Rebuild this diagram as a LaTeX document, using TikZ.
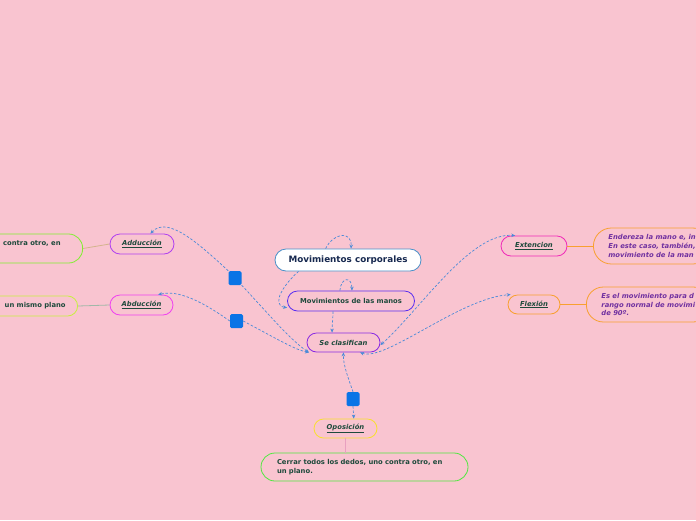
\documentclass[tikz,border=0pt]{standalone}
\usepackage{fontspec}
\setmainfont{DejaVu Sans}
\usetikzlibrary{arrows.meta}

\definecolor{canvas}{RGB}{249,196,208}
\definecolor{linkblue}{RGB}{74,138,216}
\definecolor{squareblue}{RGB}{10,116,230}
\definecolor{leafgreen}{RGB}{30,74,60}
\definecolor{navytext}{RGB}{22,40,79}
\definecolor{purpletext}{RGB}{112,48,160}
\definecolor{corpline}{RGB}{74,144,200}
\definecolor{manosline}{RGB}{91,47,240}
\definecolor{clasline}{RGB}{138,43,226}
\definecolor{adduline}{RGB}{176,64,240}
\definecolor{abduline}{RGB}{240,64,240}
\definecolor{exteline}{RGB}{240,42,184}
\definecolor{orangeline}{RGB}{248,160,48}
\definecolor{yellowline}{RGB}{248,224,48}
\definecolor{greenline}{RGB}{128,240,48}
\definecolor{limeline}{RGB}{200,240,64}
\definecolor{brightgreen}{RGB}{80,232,64}

\begin{document}
\begin{tikzpicture}[x=1pt,y=-1pt,
    topic/.style={draw,line width=0.8pt,rounded corners=9.5pt,inner sep=0pt,minimum height=19pt,text=leafgreen},
    note/.style={draw,line width=0.8pt,rounded corners=14pt,inner xsep=15pt,inner ysep=0pt,align=left,text=leafgreen},
    square/.style={fill=squareblue,rounded corners=1.5pt,minimum width=13pt,minimum height=14pt,inner sep=0pt},
    rel/.style={draw=linkblue,line width=0.7pt,dash pattern=on 2.5pt off 1.8pt,-{Stealth[length=4pt,width=3.5pt]}},
    branch/.style={line width=0.8pt}]
    \providecommand{\corpsize}{\fontsize{8.8pt}{10pt}\selectfont}
    \providecommand{\leafsize}{\fontsize{6.8pt}{8.7pt}\selectfont}
    \useasboundingbox (0,0) rectangle (696,520);
    \fill[canvas] (0,0) rectangle (696,520);
    \clip (0,0) rectangle (696,520);

    \node[topic,draw=corpline,fill=white,minimum width=146pt,minimum height=22pt,rounded corners=11pt,font=\corpsize\bfseries,text=navytext] (corp) at (348,260) {Movimientos corporales};
    \node[topic,draw=manosline,minimum width=127pt,minimum height=20pt,rounded corners=10pt,font=\leafsize\bfseries] (manos) at (351,301) {Movimientos de las manos};
    \node[topic,draw=clasline,minimum width=73pt,font=\leafsize\bfseries\itshape] (clas) at (343.5,342.5) {Se clasifican};

    \node[topic,draw=adduline,minimum width=64pt,minimum height=20pt,rounded corners=10pt,font=\leafsize\bfseries\itshape] (addu) at (142,244) {\underline{Adducción}};
    \node[topic,draw=abduline,minimum width=63pt,minimum height=20pt,rounded corners=10pt,font=\leafsize\bfseries\itshape] (abdu) at (141.5,305) {\underline{Abducción}};
    \node[topic,draw=exteline,minimum width=66pt,minimum height=20pt,rounded corners=10pt,font=\leafsize\bfseries\itshape] (exte) at (534,246) {\underline{Extencion}};
    \node[topic,draw=orangeline,minimum width=52pt,font=\leafsize\bfseries\itshape] (flex) at (534,304.5) {\underline{Flexión}};
    \node[topic,draw=yellowline,minimum width=63pt,font=\leafsize\bfseries\itshape] (opos) at (345.5,428.5) {\underline{Oposición}};

    \node[note,draw=greenline,anchor=east,minimum height=29pt,inner xsep=0pt,font=\leafsize\bfseries] (adduText) at (83,248.5) {\hspace*{40pt}contra otro, en\hspace*{22pt}\\ \strut};
    \node[note,draw=limeline,anchor=east,minimum height=20pt,rounded corners=10pt,inner xsep=0pt,font=\leafsize\bfseries] (abduText) at (78,306) {\hspace*{40pt}un mismo plano\hspace*{12pt}};
    \node[note,draw=orangeline,anchor=west,minimum height=36pt,rounded corners=18pt,text=purpletext,font=\leafsize\bfseries\itshape] (exteText) at (593,246) {Endereza la mano e, in\\En este caso, también,\\movimiento de la man};
    \node[note,draw=orangeline,anchor=west,minimum height=35pt,rounded corners=17pt,text=purpletext,font=\leafsize\bfseries\itshape] (flexText) at (586,304.5) {Es el movimiento para d\\rango normal de movimi\\de 90º.};
    \node[note,draw=brightgreen,minimum width=207pt,minimum height=28pt,text width=175pt,font=\leafsize\bfseries] (oposText) at (364.5,467) {Cerrar todos los dedos, uno contra otro, en\\un plano.};

    \node[square] (sqA) at (235,278) {};
    \node[square] (sqB) at (236.5,321) {};
    \node[square] (sqC) at (353,399) {};

    % branches
    \draw[branch,draw={rgb,255:red,212;green,180;blue,140}] (adduText.east) -- (addu.west);
    \draw[branch,draw={rgb,255:red,160;green,184;blue,168}] (abduText.east) -- (abdu.west);
    \draw[branch,draw=orangeline] (exte.east) -- (exteText.west);
    \draw[branch,draw=orangeline] (flex.east) -- (flexText.west);
    \draw[branch,draw={rgb,255:red,232;green,160;blue,192}] (opos.south) -- (opos.south |- oposText.north);

    % relationships
    \draw[rel] (corp.153) .. controls (333,233) and (352,230) .. (corp.75);
    \draw[rel] (corp.193) .. controls (285,283) and (270,305) .. (manos.186);
    \draw[rel] (manos.137) .. controls (341,277) and (352,276) .. (manos.85);
    \draw[rel] (manos.210) .. controls (333,320) and (332,326) .. (clas.139);
    \draw[rel] (sqA.north west) .. controls (200,245) and (168,215) .. (addu.51);
    \draw[rel] (sqA.south east) .. controls (265,310) and (290,340) .. (clas.196);
    \draw[rel] (sqB.west) .. controls (200,300) and (178,290) .. (abdu.32);
    \draw[rel] (sqB.east) .. controls (270,335) and (295,350) .. (clas.196);
    \draw[rel,{Stealth[length=4pt,width=3.5pt]}-{Stealth[length=4pt,width=3.5pt]}] (clas.356) .. controls (420,310) and (470,232) .. (exte.151);
    \draw[rel,{Stealth[length=4pt,width=3.5pt]}-{Stealth[length=4pt,width=3.5pt]}] (clas.329) .. controls (385,362) and (460,298) .. (flex.157);
    \draw[rel] (sqC.north) .. controls (349,380) and (343,365) .. (clas.270);
    \draw[rel] (sqC.south) -- (opos.50);
\end{tikzpicture}
\end{document}
